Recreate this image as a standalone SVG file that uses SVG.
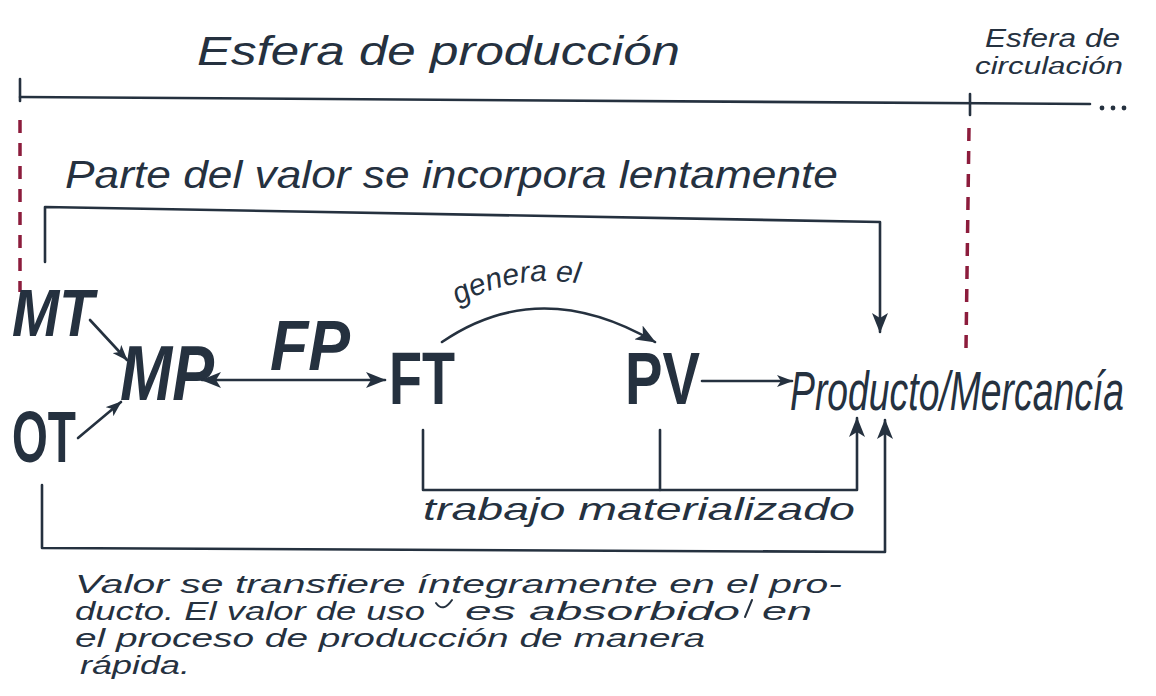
<svg xmlns="http://www.w3.org/2000/svg" width="1156" height="696" viewBox="0 0 1156 696">
<style>
.ink{fill:#25313f}
.ln{fill:none;stroke:#25313f;stroke-width:2.6;stroke-linecap:round;stroke-linejoin:round}
.thin{fill:none;stroke:#25313f;stroke-width:2;stroke-linecap:round}
.red{fill:none;stroke:#8c1c3c;stroke-width:3.5;stroke-dasharray:13 10}
.hand{font-family:"Liberation Sans","DejaVu Sans",sans-serif;font-style:italic;fill:#25313f}
.big{font-family:"Liberation Sans","DejaVu Sans",sans-serif;fill:#25313f}
.note{font-family:"Liberation Sans","DejaVu Sans",sans-serif;font-style:italic;fill:#25313f;font-size:25px}
</style>
<defs>
<marker id="ah" viewBox="0 0 16 12" refX="15" refY="6" markerWidth="16" markerHeight="12" markerUnits="userSpaceOnUse" orient="auto-start-reverse">
<path d="M0,0 L16,6 L0,12 L4,6 Z" class="ink"/>
</marker>
<marker id="ahb" viewBox="0 0 20 16" refX="19" refY="8" markerWidth="20" markerHeight="16" markerUnits="userSpaceOnUse" orient="auto-start-reverse">
<path d="M0,0 L20,8 L0,16 L5,8 Z" class="ink"/>
</marker>
</defs>
<rect width="1156" height="696" fill="#ffffff"/>

<g id="esfera-produccion">
<text class="hand" x="197" y="65" font-size="40" textLength="483" lengthAdjust="spacingAndGlyphs">Esfera de producción</text>
<path class="ln" d="M20,97 L1090,104" stroke-width="2.8"/>
<path class="ln" d="M20,79 L20,101" stroke-width="4.5"/>
</g>

<g id="esfera-circulacion">
<text class="hand" x="985" y="47" font-size="25" textLength="135" lengthAdjust="spacingAndGlyphs">Esfera de</text>
<text class="hand" x="975" y="74" font-size="23" textLength="148" lengthAdjust="spacingAndGlyphs">circulación</text>
<path class="ln" d="M970,94 L970,115" stroke-width="4"/>
<circle cx="1102" cy="108" r="2.4" class="ink"/>
<circle cx="1113" cy="108" r="2.4" class="ink"/>
<circle cx="1124" cy="108" r="2.4" class="ink"/>
</g>

<g id="limites">
<path class="red" d="M20,120 L20,292"/>
<path class="red" d="M969,128 L966,348"/>
</g>

<g id="parte-valor">
<text class="hand" x="65" y="188" font-size="38" textLength="773" lengthAdjust="spacingAndGlyphs">Parte del valor se incorpora lentamente</text>
</g>

<g id="MT"><text class="big" x="12" y="336" font-size="66" font-weight="bold" font-style="italic" textLength="82" lengthAdjust="spacingAndGlyphs">MT</text></g>
<g id="OT"><text class="big" x="12" y="462" font-size="72" font-weight="bold" textLength="64" lengthAdjust="spacingAndGlyphs">OT</text></g>
<g id="MP"><text class="big" x="120" y="400" font-size="78" font-weight="bold" font-style="italic" textLength="94" lengthAdjust="spacingAndGlyphs">MP</text></g>
<g id="FP"><text class="big" x="270" y="370" font-size="70" font-weight="bold" font-style="italic" textLength="80" lengthAdjust="spacingAndGlyphs">FP</text></g>
<g id="FT"><text class="big" x="389" y="404" font-size="74" font-weight="bold" textLength="66" lengthAdjust="spacingAndGlyphs">FT</text></g>
<g id="PV"><text class="big" x="625" y="404" font-size="74" font-weight="bold" textLength="75" lengthAdjust="spacingAndGlyphs">PV</text></g>
<g id="producto-mercancia" transform="translate(790,410) scale(1,1.4)"><text class="big" x="0" y="0" font-size="40" font-style="italic" textLength="334" lengthAdjust="spacingAndGlyphs">Producto/Mercancía</text></g>

<g id="conectores">
<path class="ln" d="M45,262 L45,207 L880,222 L880,332" marker-end="url(#ahb)"/>
<path class="ln" d="M90,320 L127,360" marker-end="url(#ah)"/>
<path class="ln" d="M78,438 L121,402" marker-end="url(#ah)"/>
<path class="ln" d="M202,380 L385,380" marker-start="url(#ahb)" marker-end="url(#ahb)"/>
<path class="ln" d="M442,342 Q540,275 655,342" marker-end="url(#ahb)"/>
<path class="ln" d="M702,381 L792,381" marker-end="url(#ah)"/>
<path class="ln" d="M423,430 L423,490 L857,490 L857,418" marker-end="url(#ahb)"/>
<path class="ln" d="M660,430 L660,490"/>
<path class="ln" d="M42,485 L42,548 L885,552 L885,420" marker-end="url(#ahb)"/>
</g>

<g id="genera-el">
<path id="arcTxt" d="M458,305 Q535,262 625,296" fill="none"/>
<text class="hand" font-size="30"><textPath href="#arcTxt">genera el</textPath></text>
</g>

<g id="trabajo-materializado">
<text class="hand" x="423" y="520" font-size="32" textLength="432" lengthAdjust="spacingAndGlyphs">trabajo materializado</text>
</g>

<g id="nota-valor">
<text class="note" x="75" y="593" textLength="767" lengthAdjust="spacingAndGlyphs">Valor se transfiere íntegramente en el pro-</text>
<text class="note" x="75" y="620" textLength="350" lengthAdjust="spacingAndGlyphs">ducto. El valor de uso</text>
<text class="note" x="465" y="620" textLength="275" lengthAdjust="spacingAndGlyphs">es absorbido</text>
<text class="note" x="762" y="620" textLength="50" lengthAdjust="spacingAndGlyphs">en</text>
<text class="note" x="75" y="647" textLength="630" lengthAdjust="spacingAndGlyphs">el proceso de producción de manera</text>
<text class="note" x="80" y="674" textLength="110" lengthAdjust="spacingAndGlyphs">rápida.</text>
<path class="thin" d="M436,603 Q443,613 452,600"/>
<path class="thin" d="M745,617 L752,600"/>
</g>
</svg>
